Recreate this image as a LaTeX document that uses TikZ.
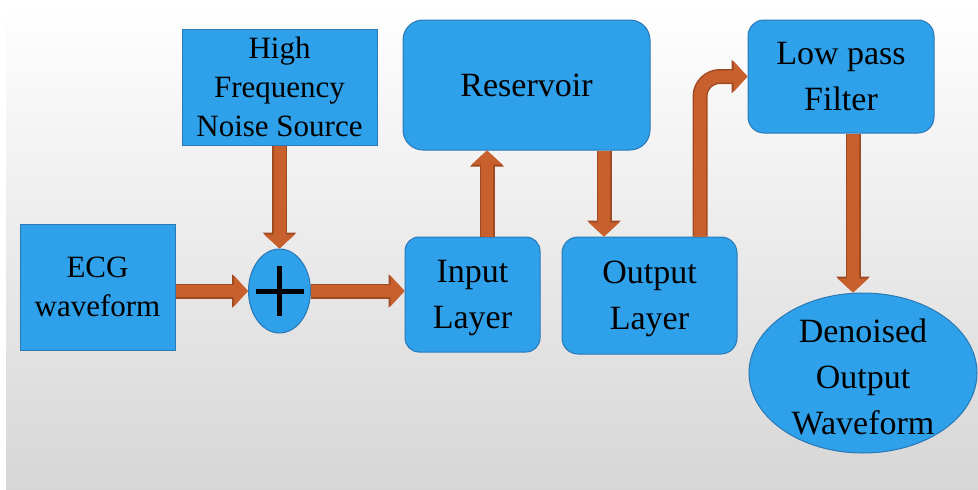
\documentclass[tikz,border=0pt]{standalone}
\usepackage{fontspec}
\setmainfont{Liberation Serif}
\usetikzlibrary{arrows.meta,shapes.geometric}

\definecolor{boxblue}{HTML}{2EA1EA}
\definecolor{boxline}{HTML}{2A78B5}
\definecolor{flowfill}{HTML}{C8602E}
\definecolor{flowline}{HTML}{A04A22}

\tikzset{
  block/.style={rectangle, draw=boxline, fill=boxblue, line width=1pt, align=center, inner sep=0pt},
  roundblock/.style={block, rounded corners=16pt},
  oval/.style={ellipse, draw=boxline, fill=boxblue, line width=1pt, inner sep=0pt},
  bigtext/.style={font=\fontsize{34}{46}\selectfont, text depth=0pt},
  smalltext/.style={font=\fontsize{31}{39}\selectfont, text depth=0pt},
  flow/.style={draw=flowline, line width=15pt, -{Triangle[length=16pt,width=33pt]},
    postaction={draw=flowfill, line width=12pt, -{Triangle[length=14pt,width=30pt]}}}
}

\begin{document}
\begin{tikzpicture}[x=1pt,y=-1pt]
% Background
\fill[white] (0,0) rectangle (978,490);
\shade[top color=white, bottom color=black!16] (6,3) rectangle (978,490);
\useasboundingbox (0,0) rectangle (978,490);

% Blocks
\node[block, smalltext, minimum width=155pt, minimum height=126pt] (ecg) at (97.5,287) {ECG\\waveform};
\node[block, smalltext, minimum width=195pt, minimum height=116pt] (noise) at (279.5,87) {High\\Frequency\\Noise Source};
\node[oval, minimum width=62pt, minimum height=84pt] (sum) at (279.5,291) {};
\node[roundblock, bigtext, minimum width=135pt, minimum height=115pt, rounded corners=14pt] (input) at (472.5,294.5) {Input\\Layer};
\node[roundblock, bigtext, minimum width=247pt, minimum height=130pt, rounded corners=20pt] (reservoir) at (526.5,85) {Reservoir};
\node[roundblock, bigtext, minimum width=175pt, minimum height=117pt] (output) at (649.5,295.5) {Output\\Layer};
\node[roundblock, bigtext, minimum width=186pt, minimum height=113pt] (lpf) at (841,76.5) {Low pass\\Filter};
\node[oval, minimum width=228pt, minimum height=160pt] (out) at (863,373) {};
\node[bigtext, align=center] (outtext) at ([yshift=-4pt]out.center) {Denoised\\Output\\Waveform};

% Summing sign
\draw[line width=5pt] ([xshift=-24pt]sum.center) -- ([xshift=24pt]sum.center);
\draw[line width=5pt] ([yshift=25pt]sum.center) -- ([yshift=-25pt]sum.center);

% Connector positions
\coordinate (upx) at (487,0);
\coordinate (downx) at (604,0);
\coordinate (riserx) at (700,0);
\coordinate (dropx) at (853,0);

% Connectors
\draw[flow] (ecg.east |- sum.west) -- (sum.west);
\draw[flow] (sum.east) -- (input.west |- sum.east);
\draw[flow] (noise.south) -- (sum.north);
\draw[flow] (input.north -| upx) -- (reservoir.south -| upx);
\draw[flow] (reservoir.south -| downx) -- (output.north -| downx);
\draw[flow, rounded corners=20pt] (output.north -| riserx) |- (lpf.west);
\draw[flow] (lpf.south -| dropx) -- (out.north -| dropx);
\end{tikzpicture}
\end{document}
